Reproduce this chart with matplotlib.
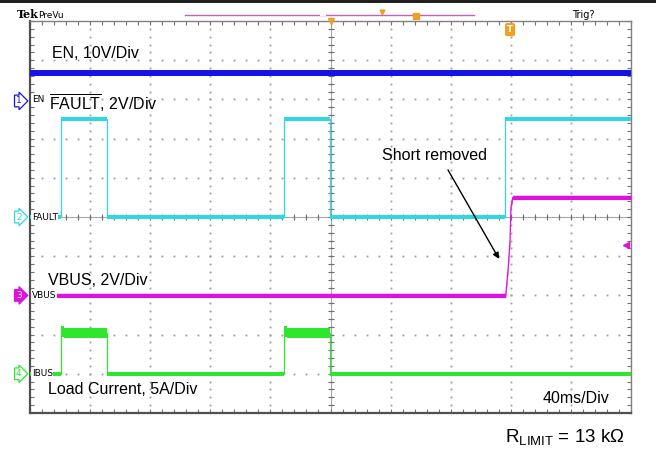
import matplotlib
matplotlib.use("Agg")
import matplotlib.pyplot as plt
import numpy as np
from matplotlib.patches import Rectangle

plt.rcParams['font.family'] = ['Liberation Sans', 'DejaVu Sans']
plt.rcParams['mathtext.fontset'] = 'custom'
plt.rcParams['mathtext.rm'] = 'Liberation Sans'
plt.rcParams['mathtext.it'] = 'Liberation Sans:italic'

# ---- scope capture, 40 ms/div, 10 x 10 divisions ----
# EN (10 V/div)
en_t = [0, 400]
en_v = [7.2, 7.2]
en_noise = 0.75

# FAULT (2 V/div)
fault_t = [0, 20.6, 51.2, 169.0, 199.7, 316.3, 400]
fault_v = [0, 5.0, 0, 5.0, 0, 5.0, 5.0]
fault_noise = 0.09

# VBUS (2 V/div)
vbus_t = [0, 316.6, 318.3, 319.5, 320.1, 321.3, 400]
vbus_v = [0, 0, 1.44, 2.81, 4.5, 5.0, 5.0]
vbus_noise = 0.11

# IBUS load current (5 A/div)
ibus_t = [0, 20.6, 22.5, 51.2, 169.0, 170.9, 199.7, 400]
ibus_a = [0, 5.4, 5.2, 0, 5.4, 5.2, 0, 0]
ibus_noise = [0.26, 0.66, 0.62, 0.26, 0.66, 0.62, 0.26, 0.26]

# channel: (ground offset in div, units per div, colour, marker label)
channels = {
    '1': (2.96, 10, '#1414e6', 'EN'),
    '2': (0.0, 2, '#2ed8e0', 'FAULT'),
    '3': (-2.0, 2, '#e010e0', 'VBUS'),
    '4': (-4.0, 5, '#2ee62e', 'IBUS'),
}

W, H = 656, 455
fig = plt.figure(figsize=(W / 100, H / 100), dpi=100)
ax = fig.add_axes([30 / W, (H - 413) / H, 601 / W, 392 / H])
ax.set_xlim(0, 400)
ax.set_ylim(-5, 5)


def fpx(x, y):
    return x / W, 1 - y / H


# grid dots
grid_c = '#9c9c9c'
minor_x = np.arange(0, 400.1, 8)
minor_y = np.arange(-5, 5.01, 0.2)
for gx in range(40, 400, 40):
    ax.plot([gx] * len(minor_y), minor_y, ls='none', marker='s', ms=1.3,
            mec='none', mfc=grid_c, zorder=1)
for gy in range(-4, 5):
    ax.plot(minor_x, [gy] * len(minor_x), ls='none', marker='s', ms=1.3,
            mec='none', mfc=grid_c, zorder=1)

# centre cross with ticks
ax.axhline(0, color='#a8a8a8', lw=0.8, zorder=1)
ax.axvline(200, color='#a8a8a8', lw=0.8, zorder=1)
ax.plot(minor_x, np.zeros_like(minor_x), ls='none', marker='|', ms=4,
        mew=0.8, color='#707070', zorder=1)
ax.plot(np.full_like(minor_y, 200), minor_y, ls='none', marker='_', ms=4,
        mew=0.8, color='#707070', zorder=1)

# frame ticks
ax.set_xticks(minor_x)
ax.set_yticks(minor_y)
ax.tick_params(direction='in', length=3, width=0.8, color='#707070',
               top=True, right=True, labelbottom=False, labelleft=False)
for side in ['left', 'bottom']:
    ax.spines[side].set_color('#505050')
    ax.spines[side].set_linewidth(1.6)
for side in ['top', 'right']:
    ax.spines[side].set_color('#808080')
    ax.spines[side].set_linewidth(1.0)


def to_div(ch, vals):
    off, scale = channels[ch][0], channels[ch][1]
    return off + np.asarray(vals, dtype=float) / scale


def step_trace(ch, t, v, noise):
    c = channels[ch][2]
    y = to_div(ch, v)
    n = np.broadcast_to(np.asarray(noise, dtype=float), y.shape) / channels[ch][1]
    ax.fill_between(t, y - n, y + n, step='post', color=c, lw=0, zorder=3)
    ax.plot(t, y, drawstyle='steps-post', color=c, lw=0.9, zorder=3)


step_trace('1', en_t, en_v, en_noise)
step_trace('2', fault_t, fault_v, fault_noise)
step_trace('4', ibus_t, ibus_a, ibus_noise)

vb = to_div('3', vbus_v)
vn = vbus_noise / channels['3'][1]
ax.fill_between(vbus_t, vb - vn, vb + vn, color=channels['3'][2], lw=0, zorder=3)
ax.plot(vbus_t, vb, color=channels['3'][2], lw=0.9, zorder=3)

# channel markers on the left
for ch, (off, scale, c, name) in channels.items():
    if ch == '3':
        bb = dict(boxstyle='rarrow,pad=0.15', fc=c, ec=c, lw=0.9)
        tc = 'white'
    else:
        bb = dict(boxstyle='rarrow,pad=0.15', fc='white', ec=c, lw=0.9)
        tc = c
    ax.text(-7.5, off, ch, color=tc, fontsize=6.5, family='DejaVu Sans',
            ha='center', va='center', bbox=bb, clip_on=False, zorder=6)
    ty = off + (0.05 if ch == '1' else 0)
    ax.text(1.2, ty, name, color='black', fontsize=6.5, family='DejaVu Sans',
            ha='left', va='center', zorder=6,
            bbox=dict(boxstyle='square,pad=0.05', fc='white', ec='none'))

# annotations
fs = 11.5
ax.text(14.6, 4.16, 'EN, 10V/Div', fontsize=fs, va='center', zorder=7)
ax.text(12.6, 2.91, r'$\overline{\mathrm{FAULT}}$, 2V/Div', fontsize=fs,
        va='center', zorder=7)
ax.text(12.0, -1.63, 'VBUS, 2V/Div', fontsize=fs, va='center', zorder=7)
ax.text(12.0, -4.39, 'Load Current, 5A/Div', fontsize=fs, va='center', zorder=7)
ax.text(234.3, 1.56, 'Short removed', fontsize=fs, va='center', zorder=7)
ax.text(341.4, -4.64, '40ms/Div', fontsize=fs, va='center', zorder=7)
ax.annotate('', xy=(312.2, -1.07), xytext=(278.2, 1.20),
            arrowprops=dict(arrowstyle='-|>', color='black', lw=1.0,
                            mutation_scale=9, shrinkA=0, shrinkB=0), zorder=7)

# trigger markers
ax.plot(200, 5.0, marker='v', ms=5, color='#f0a020', clip_on=False, zorder=8)
ax.text(319.5, 4.78, 'T', fontsize=6, color='white', weight='bold',
        ha='center', va='center', family='DejaVu Sans',
        bbox=dict(boxstyle='round,pad=0.25', fc='#f0a020', ec='none'), zorder=8)
ax.plot(396.7, -0.71, marker='<', ms=4, color='#e010e0', zorder=8)

# status bar on top
fig.patches.append(Rectangle((0, 1 - 3 / H), 1, 3 / H, transform=fig.transFigure,
                             fc='#202020', ec='none'))
x0, y0 = fpx(185, 15)
x1, _ = fpx(474, 15)
fig.add_artist(plt.Line2D([x0, x1], [y0, y0], color='#c060c0', lw=1.0))
fig.add_artist(plt.Line2D([fpx(321, 15)[0], fpx(325, 15)[0]], [y0, y0],
                          color='white', lw=1.5))
fig.add_artist(plt.Line2D([fpx(382, 12)[0]], [fpx(382, 12)[1]], marker='v',
                          ms=3.5, color='#f0a020', ls='none'))
fig.add_artist(plt.Line2D([fpx(416, 16)[0]], [fpx(416, 16)[1]], marker='s',
                          ms=4, color='#f0a020', ls='none'))
fig.text(*fpx(17, 15), 'Tek', fontsize=8, weight='bold', family='DejaVu Serif',
         ha='left', va='center')
fig.text(*fpx(38, 15), 'PreVu', fontsize=6.5, family='DejaVu Sans',
         ha='left', va='center')
fig.text(*fpx(583, 15), 'Trig?', fontsize=7, family='DejaVu Sans',
         ha='center', va='center')

fig.text(*fpx(505, 437), r'R$_{\mathrm{LIMIT}}$ = 13 kΩ', fontsize=13.5,
         ha='left', va='center')

fig.savefig('out.png', dpi=100)
